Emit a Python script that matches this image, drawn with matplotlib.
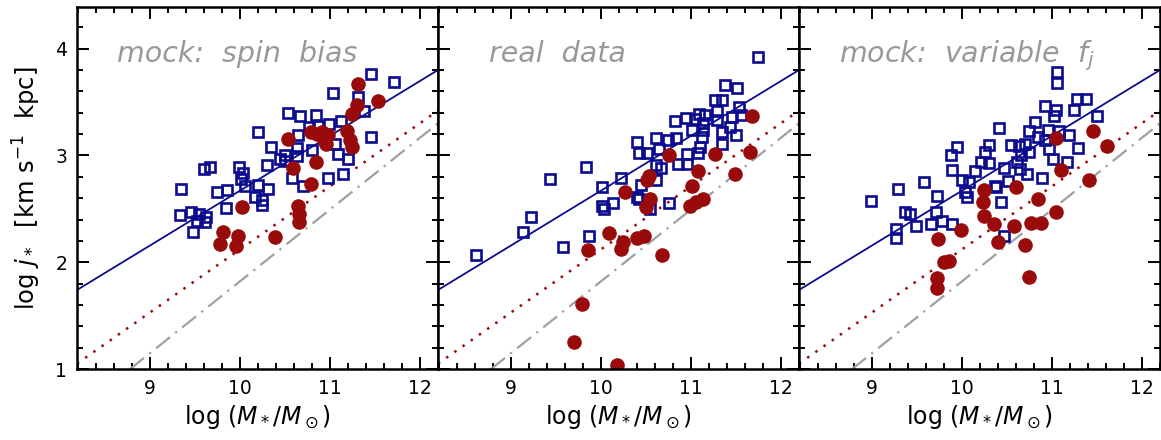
import matplotlib
matplotlib.use("Agg")
import matplotlib.pyplot as plt
from matplotlib.ticker import MultipleLocator

# panel 1: mock, spin bias
p1_disk_x = [11.46, 11.71, 11.03, 11.31, 11.38, 10.53, 10.67, 10.84, 11.12, 10.99,
             10.20, 10.64, 10.77, 11.46, 10.35, 10.63, 10.80, 11.06, 11.09, 10.44,
             10.50, 10.63, 11.20, 10.30, 10.98, 11.15, 10.58, 10.70, 9.60, 9.67,
             9.99, 10.03, 9.34, 9.75, 9.86, 10.06, 10.20, 10.31, 10.17, 10.24,
             10.25, 9.85, 10.01, 9.33, 9.46, 9.54, 9.62, 9.61, 9.48, 9.52,
             10.87, 10.50]
p1_disk_y = [3.76, 3.69, 3.58, 3.55, 3.42, 3.40, 3.37, 3.38, 3.32, 3.29,
             3.22, 3.19, 3.27, 3.17, 3.08, 3.07, 3.05, 3.11, 3.01, 2.97,
             2.95, 2.99, 2.97, 2.91, 2.79, 2.83, 2.79, 2.71, 2.87, 2.89,
             2.89, 2.84, 2.69, 2.66, 2.68, 2.71, 2.72, 2.69, 2.61, 2.58,
             2.54, 2.51, 2.78, 2.44, 2.47, 2.45, 2.42, 2.38, 2.28, 2.39,
             3.28, 3.00]
p1_bulge_x = [11.31, 11.53, 11.30, 11.24, 11.19, 11.22, 11.25, 10.79, 10.91, 10.98,
              10.96, 10.53, 10.85, 10.59, 10.79, 10.02, 10.65, 10.66, 10.66, 9.81,
              9.98, 10.39, 9.78, 9.96, 10.86, 10.93]
p1_bulge_y = [3.67, 3.51, 3.47, 3.39, 3.23, 3.14, 3.08, 3.22, 3.22, 3.19,
              3.11, 3.15, 2.94, 2.88, 2.73, 2.52, 2.53, 2.45, 2.38, 2.28,
              2.25, 2.24, 2.17, 2.15, 3.20, 3.14]

# panel 2: real data
p2_disk_x = [11.75, 11.38, 11.51, 11.27, 11.35, 11.29, 11.53, 11.09, 11.16, 11.04,
             10.94, 10.82, 11.13, 11.29, 11.46, 11.56, 11.43, 11.35, 11.50, 11.34,
             11.13, 11.12, 11.10, 11.08, 10.96, 10.86, 10.96, 11.01, 10.83, 10.74,
             10.61, 10.40, 10.42, 10.51, 10.64, 10.61, 10.67, 9.83, 9.43, 10.22,
             10.01, 10.44, 10.40, 10.61, 10.13, 10.01, 10.76, 8.61, 9.13, 9.22,
             9.58, 9.87, 10.03, 10.55, 10.42]
p2_disk_y = [3.92, 3.66, 3.63, 3.52, 3.52, 3.42, 3.45, 3.39, 3.38, 3.34,
             3.35, 3.32, 3.30, 3.33, 3.36, 3.38, 3.27, 3.22, 3.19, 3.11,
             3.24, 3.17, 3.08, 3.02, 3.01, 2.92, 2.92, 3.24, 3.16, 3.14,
             3.16, 3.13, 3.02, 3.02, 3.06, 2.91, 2.88, 2.89, 2.78, 2.79,
             2.70, 2.72, 2.61, 2.77, 2.55, 2.53, 2.55, 2.07, 2.28, 2.42,
             2.14, 2.25, 2.50, 2.50, 2.59]
p2_bulge_x = [11.68, 11.66, 11.49, 11.27, 11.08, 11.01, 11.13, 10.99, 10.76, 10.53,
              10.51, 10.27, 10.54, 10.50, 10.09, 10.24, 10.22, 10.40, 10.48, 9.86,
              10.68, 9.79, 9.70, 10.18, 11.06]
p2_bulge_y = [3.37, 3.03, 2.83, 3.01, 2.85, 2.71, 2.59, 2.53, 3.00, 2.81,
              2.77, 2.66, 2.59, 2.52, 2.27, 2.19, 2.12, 2.23, 2.25, 2.11,
              2.07, 1.61, 1.25, 1.04, 2.56]

# panel 3: mock, variable f_j
p3_disk_x = [11.06, 11.06, 11.28, 11.38, 11.24, 10.92, 11.05, 11.02, 11.50, 10.41,
             10.81, 10.75, 10.96, 11.08, 11.19, 10.84, 10.92, 10.97, 11.29, 11.01,
             11.17, 9.95, 9.88, 10.30, 10.26, 10.55, 10.63, 10.70, 10.74, 10.66,
             10.21, 10.30, 10.47, 10.61, 10.65, 10.72, 9.89, 10.14, 10.00, 10.08,
             10.89, 10.51, 9.29, 9.58, 10.37, 10.03, 10.06, 8.99, 9.72, 10.43,
             9.37, 9.42, 9.27, 9.27, 9.49, 9.66, 9.78, 9.89, 10.47, 10.38,
             9.71]
p3_disk_y = [3.78, 3.68, 3.53, 3.53, 3.43, 3.46, 3.43, 3.37, 3.37, 3.26,
             3.31, 3.23, 3.24, 3.23, 3.19, 3.17, 3.14, 3.06, 3.07, 2.97,
             2.94, 3.08, 3.00, 3.10, 3.03, 3.10, 3.09, 3.11, 3.03, 3.00,
             2.94, 2.93, 2.88, 2.94, 2.87, 2.83, 2.86, 2.85, 2.77, 2.75,
             2.79, 2.76, 2.69, 2.75, 2.71, 2.66, 2.61, 2.57, 2.62, 2.56,
             2.47, 2.45, 2.31, 2.23, 2.34, 2.36, 2.39, 2.36, 2.25, 2.70,
             2.47]
p3_bulge_x = [11.46, 11.61, 11.05, 11.10, 11.41, 10.60, 10.25, 10.85, 10.23, 10.24,
              10.36, 10.58, 10.77, 10.88, 11.05, 9.99, 10.40, 10.70, 9.73, 9.80,
              9.86, 9.72, 9.72, 10.75]
p3_bulge_y = [3.23, 3.09, 3.16, 2.86, 2.77, 2.70, 2.68, 2.59, 2.56, 2.43,
              2.36, 2.34, 2.37, 2.37, 2.47, 2.30, 2.19, 2.16, 2.22, 2.00,
              2.01, 1.85, 1.76, 1.86]

# reference relations (end points)
disk_line_x = [8.19, 12.2]
disk_line_y = [1.74, 3.80]
bulge_line_x = [8.19, 12.2]
bulge_line_y = [1.05, 3.42]
ell_line_x = [8.78, 12.2]
ell_line_y = [1.00, 3.30]

panel_titles = ["mock:  spin  bias", "real  data", r"mock:  variable  $f_j$"]
panels = [(p1_disk_x, p1_disk_y, p1_bulge_x, p1_bulge_y),
          (p2_disk_x, p2_disk_y, p2_bulge_x, p2_bulge_y),
          (p3_disk_x, p3_disk_y, p3_bulge_x, p3_bulge_y)]

blue = "#0b0b8f"
red = "#990b0b"
grey = "#a0a0a0"

fig = plt.figure(figsize=(11.61, 4.40), dpi=100)
W, H = 1161.0, 440.0
lefts = [77, 438, 799]
for i, (dx, dy, bx, by) in enumerate(panels):
    ax = fig.add_axes([lefts[i] / W, 71 / H, 361 / W, 362 / H])
    ax.plot(disk_line_x, disk_line_y, color=blue, lw=1.3)
    ax.plot(bulge_line_x, bulge_line_y, color=red, lw=1.8, ls=(0, (1, 3)))
    ax.plot(ell_line_x, ell_line_y, color=grey, lw=1.6, ls=(0, (8, 3, 1, 3)))
    ax.plot(dx, dy, ls="none", marker="s", ms=7, mfc="none", mec=blue, mew=1.9)
    ax.plot(bx, by, ls="none", marker="o", ms=10.5, mfc=red, mec=red, mew=0)
    ax.set_xlim(8.19, 12.2)
    ax.set_ylim(1, 4.39)
    ax.xaxis.set_major_locator(MultipleLocator(1))
    ax.xaxis.set_minor_locator(MultipleLocator(0.2))
    ax.yaxis.set_major_locator(MultipleLocator(1))
    ax.yaxis.set_minor_locator(MultipleLocator(0.2))
    ax.tick_params(which="both", direction="in", top=True, right=True, width=1.4,
                   labelsize=13.5, colors="black")
    ax.tick_params(which="major", length=8.5, pad=7)
    ax.tick_params(which="minor", length=4.5)
    for s in ax.spines.values():
        s.set_linewidth(1.8)
    if i > 0:
        ax.set_yticklabels([])
    else:
        ax.set_ylabel(r"log $j_*$  [km s$^{-1}$  kpc]", fontsize=17.5, labelpad=9)
    ax.set_xlabel(r"log ($M_*/M_\odot$)", fontsize=17, labelpad=4)
    ax.text(0.112 if i != 1 else 0.14, 0.848, panel_titles[i], transform=ax.transAxes,
            fontsize=20.5, style="italic", color="#999999", va="baseline")

fig.savefig("out.png", dpi=100)
